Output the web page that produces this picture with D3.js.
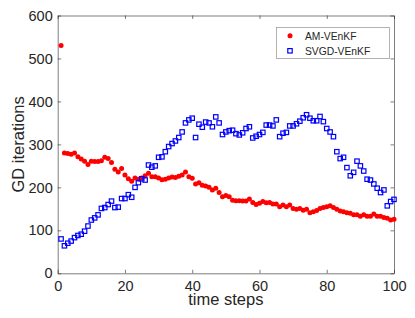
<!DOCTYPE html>
<html>
<head>
<meta charset="utf-8">
<script src="https://cdn.jsdelivr.net/npm/d3@7"></script>
<style>
  body { margin: 0; background: #fff; }
  text { font-family: "Liberation Sans", Arial, sans-serif; fill: #262626; }
</style>
</head>
<body>
<script>
// GD iterations per time step
var steps = d3.range(1, 101);
var amVEnKF = [530, 280, 279, 277, 280, 271, 266, 261, 253, 261,
  260, 260, 262, 270, 267, 258, 242, 236, 244, 229,
  220, 214, 222, 219, 222, 227, 233, 225, 225, 222,
  218, 219, 222, 224, 223, 226, 229, 236, 225, 221,
  208, 211, 205, 203, 200, 194, 198, 188, 178, 181,
  178, 170, 169, 169, 168, 168, 173, 165, 160, 163,
  167, 164, 165, 161, 161, 155, 159, 155, 159, 151,
  149, 151, 147, 149, 141, 143, 146, 151, 153, 155,
  157, 153, 149, 145, 143, 141, 140, 136, 136, 133,
  136, 133, 133, 138, 133, 133, 130, 128, 124, 126];
var svgdVEnKF = [80, 64, 70, 75, 83, 88, 91, 98, 110, 124,
  129, 136, 151, 153, 160, 168, 153, 154, 174, 174,
  183, 177, 200, 211, 220, 217, 252, 247, 250, 270,
  271, 283, 295, 302, 308, 316, 329, 350, 357, 361,
  316, 347, 340, 352, 350, 341, 364, 350, 323, 329,
  332, 333, 325, 322, 327, 337, 341, 315, 319, 323,
  328, 345, 345, 343, 357, 318, 326, 328, 343, 343,
  348, 354, 362, 369, 361, 355, 355, 365, 353, 337,
  329, 318, 283, 267, 270, 246, 227, 235, 261, 250,
  238, 219, 217, 208, 198, 188, 194, 157, 167, 172];
var xTicks = [0, 20, 40, 60, 80, 100];
var yTicks = [0, 100, 200, 300, 400, 500, 600];
var seriesNames = ["AM-VEnKF", "SVGD-VEnKF"];

var width = 415, height = 318;
var plotLeft = 57.7, plotRight = 394, plotTop = 15.5, plotBottom = 273.3;

var svg = d3.select("body").append("svg")
  .attr("width", width)
  .attr("height", height);

var x = d3.scaleLinear().domain([0, 100]).range([plotLeft, plotRight]);
var y = d3.scaleLinear().domain([0, 600]).range([plotBottom, plotTop]);

// axes box with inward ticks on all four sides
var axisStyle = function(g) {
  g.select(".domain").attr("stroke", "#262626").attr("stroke-width", 0.6);
  g.selectAll(".tick line").attr("stroke", "#262626").attr("stroke-width", 0.6);
  g.selectAll("text").style("font-size", "14.5px").attr("fill", "#262626");
};

svg.append("g")
  .attr("transform", "translate(0," + plotBottom + ")")
  .call(d3.axisBottom(x).tickValues(xTicks).tickSizeInner(-3.5).tickSizeOuter(0).tickPadding(7.5))
  .call(axisStyle);
svg.append("g")
  .attr("transform", "translate(0," + plotTop + ")")
  .call(d3.axisTop(x).tickValues(xTicks).tickSizeInner(-3.5).tickSizeOuter(0).tickFormat(""))
  .call(axisStyle);
svg.append("g")
  .attr("transform", "translate(" + plotLeft + ",0)")
  .call(d3.axisLeft(y).tickValues(yTicks).tickSizeInner(-3.5).tickSizeOuter(0).tickPadding(5))
  .call(axisStyle);
svg.append("g")
  .attr("transform", "translate(" + plotRight + ",0)")
  .call(d3.axisRight(y).tickValues(yTicks).tickSizeInner(-3.5).tickSizeOuter(0).tickFormat(""))
  .call(axisStyle);

// axis labels
svg.append("text")
  .attr("x", (plotLeft + plotRight) / 2)
  .attr("y", 304.5)
  .attr("text-anchor", "middle")
  .style("font-size", "16.5px")
  .text("time steps");
svg.append("text")
  .attr("transform", "translate(24," + (plotTop + plotBottom) / 2 + ") rotate(-90)")
  .attr("text-anchor", "middle")
  .style("font-size", "16.5px")
  .text("GD iterations");

// AM-VEnKF: red dots
svg.append("g").selectAll("circle")
  .data(amVEnKF)
 .enter().append("circle")
  .attr("cx", function(d, i) { return x(steps[i]); })
  .attr("cy", function(d) { return y(d); })
  .attr("r", 2.5)
  .attr("fill", "#ff0000");

// SVGD-VEnKF: open blue squares
svg.append("g").selectAll("rect")
  .data(svgdVEnKF)
 .enter().append("rect")
  .attr("x", function(d, i) { return x(steps[i]) - 2.2; })
  .attr("y", function(d) { return y(d) - 2.2; })
  .attr("width", 4.4)
  .attr("height", 4.4)
  .attr("fill", "none")
  .attr("stroke", "#0000ff")
  .attr("stroke-width", 1.2);

// legend
var legend = svg.append("g");
legend.append("rect")
  .attr("x", 276.5).attr("y", 27.5)
  .attr("width", 113).attr("height", 31)
  .attr("fill", "#fff")
  .attr("stroke", "#a0a0a0")
  .attr("stroke-width", 0.8);
legend.append("circle")
  .attr("cx", 290).attr("cy", 35.8).attr("r", 2.5)
  .attr("fill", "#ff0000");
legend.append("rect")
  .attr("x", 287.8).attr("y", 48.6).attr("width", 4.4).attr("height", 4.4)
  .attr("fill", "none").attr("stroke", "#0000ff").attr("stroke-width", 1.2);
legend.selectAll("text.lab")
  .data(seriesNames)
 .enter().append("text")
  .attr("class", "lab")
  .attr("x", 305)
  .attr("y", function(d, i) { return 39.5 + i * 15; })
  .style("font-size", "10.3px")
  .attr("fill", "#000")
  .text(String);
</script>
</body>
</html>
